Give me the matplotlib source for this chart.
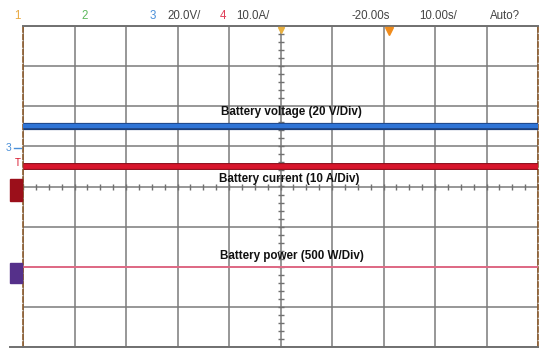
import numpy as np
import matplotlib
matplotlib.use('Agg')
import matplotlib.pyplot as plt
from matplotlib.patches import Rectangle
from matplotlib.lines import Line2D

plt.rcParams['font.family'] = ['Liberation Sans', 'DejaVu Sans']

# screen is 10 x 8 divisions, traces given in divisions
time_div = [0, 10]
voltage_div = [1.5, 1.5]     # 20 V/Div
current_div = [0.5, 0.5]     # 10 A/Div
power_div = [-2.0, -2.0]     # 500 W/Div

labels = ['Battery voltage (20 V/Div)', 'Battery current (10 A/Div)', 'Battery power (500 W/Div)']
label_pos = [(5.22, 1.86), (5.17, 0.18), (5.22, -1.74)]

header = [('1', 14, '#e8a840'), ('2', 81, '#5cb85c'), ('3', 150, '#4a8fd8'),
          ('20.0V/', 167, '#444444'), ('4', 220, '#e0405a'), ('10.0A/', 236, '#444444'),
          ('-20.00s', 351, '#444444'), ('10.00s/', 419, '#444444'), ('Auto?', 490, '#444444')]

W, H = 550, 360
fig = plt.figure(figsize=(5.5, 3.6), dpi=100)
fig.patch.set_facecolor('white')
ax = fig.add_axes([23 / W, 1 - 347 / H, 515 / W, 321 / H])
ax.set_xlim(0, 10)
ax.set_ylim(-4, 4)

# graticule
ax.set_xticks(np.arange(0, 11))
ax.set_yticks(np.arange(-4, 5))
ax.grid(True, color='#7a7a7a', lw=1.1)
ax.tick_params(length=0, labelbottom=False, labelleft=False)
for s in ['left', 'right']:
    ax.spines[s].set_color('#8b5a2b')
    ax.spines[s].set_linestyle((0, (3, 1.5)))
    ax.spines[s].set_linewidth(1.2)
for s in ['top', 'bottom']:
    ax.spines[s].set_color('#707070')
    ax.spines[s].set_linewidth(1.4)

# center axes minor ticks
yt = np.arange(-4, 4.01, 0.2)
ax.plot(np.full_like(yt, 5), yt, ls='none', marker='_', ms=5, mew=1, color='#707070')
xt = np.arange(0, 10.01, 0.25)
ax.plot(xt, np.zeros_like(xt), ls='none', marker='|', ms=5, mew=1, color='#707070')

# traces
ax.plot(time_div, voltage_div, color='#1c3f7a', lw=5.2, solid_capstyle='butt', zorder=5)
ax.plot(time_div, voltage_div, color='#2f74d6', lw=3.2, solid_capstyle='butt', zorder=6)
ax.plot(time_div, current_div, color='#8c0f1c', lw=5.0, solid_capstyle='butt', zorder=5)
ax.plot(time_div, current_div, color='#d8162c', lw=3.4, solid_capstyle='butt', zorder=6)
ax.plot(time_div, power_div, color='#e06a86', lw=1.4, zorder=5)

for t, (x, y) in zip(labels, label_pos):
    ax.text(x, y, t, ha='center', va='center', fontsize=8.4, fontweight='bold',
            color='#111111', zorder=8)

# header line
for t, x, c in header:
    fig.text(x / W, 1 - 16 / H, t, ha='left', va='center', fontsize=8.3, color=c)

# bottom line extends left of the screen
fig.add_artist(Line2D([10 / W, 23 / W], [1 - 347 / H, 1 - 347 / H], color='#707070', lw=1.4))

# trigger markers on top
ax.plot([5.0], [3.9], marker='v', ms=5, color='#e8b040', clip_on=False, zorder=9)
ax.plot([7.1], [3.88], marker='v', ms=6, color='#f08c1c', clip_on=False, zorder=9)

# left channel markers
fig.text(9 / W, 1 - 148 / H, '3', color='#4a8fd8', fontsize=7.5, ha='center', va='center')
fig.add_artist(Line2D([14 / W, 21 / W], [1 - 148 / H, 1 - 148 / H], color='#4a8fd8', lw=1))
fig.text(18 / W, 1 - 163 / H, 'T', color='#d8162c', fontsize=7, ha='center', va='center')
fig.add_artist(Rectangle((10 / W, 1 - 201 / H), 12 / W, 22 / H, color='#9b0f1a'))
fig.add_artist(Rectangle((10 / W, 1 - 283 / H), 12 / W, 20 / H, color='#55308a'))

fig.savefig('out.png', dpi=100)
